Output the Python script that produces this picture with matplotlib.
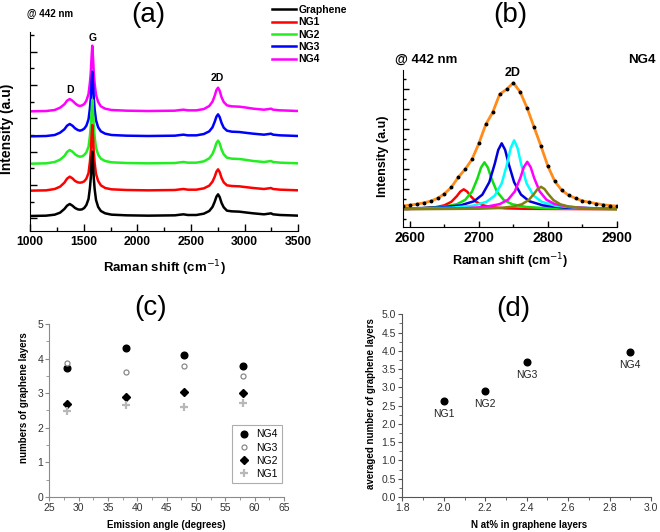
import numpy as np
import matplotlib
matplotlib.use('Agg')
from matplotlib import pyplot as plt
from matplotlib.ticker import MultipleLocator, FormatStrFormatter

plt.rcParams['font.family'] = ['Liberation Sans', 'DejaVu Sans']

# (a) - espectros Raman empilhados (intensidade relativa, a.u.)
raman_x = [1000, 1150, 1230, 1280, 1320, 1345, 1370, 1395, 1420, 1445,
           1465, 1485, 1505, 1525, 1545, 1558, 1566, 1573, 1580, 1587,
           1594, 1602, 1615, 1635, 1660, 1700, 1760, 1900, 2100, 2350,
           2400, 2430, 2470, 2550, 2620, 2670, 2700, 2720, 2737, 2752,
           2767, 2785, 2805, 2835, 2880, 2950, 3000, 3080, 3180, 3225,
           3245, 3265, 3330, 3420, 3500]
graphene = [0, 1, 4, 10, 21, 31, 36, 31, 24, 20,
            19, 20, 24, 33, 51, 84, 114, 156, 193, 156,
            114, 81, 48, 27, 15, 8, 4, 2, 1, 2,
            4, 5, 3, 3, 7, 15, 27, 42, 58, 65,
            57, 39, 26, 16, 14, 13, 11, 8, 5, 7,
            8, 5, 3, 2, 1]
ng1 = [0, 1, 5, 12, 24, 36, 42, 37, 29, 25,
       24, 25, 28, 36, 53, 86, 116, 160, 197, 160,
       116, 83, 50, 29, 16, 8, 4, 2, 1, 2,
       4, 5, 3, 3, 7, 15, 27, 41, 57, 64,
       56, 38, 25, 16, 14, 13, 11, 8, 5, 7,
       8, 5, 3, 2, 1]
ng2 = [0, 1, 5, 12, 23, 35, 41, 36, 28, 23,
       21, 22, 26, 34, 51, 83, 113, 155, 192, 155,
       113, 80, 48, 27, 15, 8, 4, 2, 1, 2,
       4, 5, 3, 3, 7, 16, 29, 45, 62, 69,
       61, 42, 28, 18, 15, 14, 12, 8, 5, 7,
       8, 5, 3, 2, 1]
ng3 = [0, 1, 4, 11, 21, 32, 37, 32, 24, 19,
       17, 19, 23, 32, 51, 84, 114, 157, 194, 157,
       114, 81, 48, 27, 15, 8, 4, 2, 1, 2,
       4, 5, 3, 3, 7, 15, 27, 43, 59, 66,
       58, 40, 26, 17, 14, 13, 11, 8, 5, 7,
       8, 5, 3, 2, 1]
ng4 = [0, 1, 4, 11, 21, 32, 37, 32, 24, 18,
       16, 18, 22, 32, 52, 86, 116, 160, 197, 160,
       116, 83, 49, 28, 15, 8, 4, 2, 1, 2,
       4, 5, 3, 3, 7, 16, 29, 46, 64, 71,
       62, 42, 28, 18, 15, 14, 12, 8, 5, 7,
       8, 5, 3, 2, 1]
nomes = ['Graphene', 'NG1', 'NG2', 'NG3', 'NG4']
espectros = [graphene, ng1, ng2, ng3, ng4]
offsets = [7, 83, 164, 246, 321]
cores_a = ['black', '#ff0000', '#22ee22', '#0000ff', '#ff00ff']

# (b) - ajuste da banda 2D da amostra NG4
fit_x = list(range(2590, 2901, 10))
fit_y = [3.4, 4.2, 5.2, 6.5, 8.2, 11, 15.5, 22, 32, 40,
         50, 66, 85, 97, 115, 120, 126.5, 117, 101, 82,
         63, 43, 28, 19, 14, 11, 8.5, 7, 5.8, 4.6,
         3.8, 3.2]
red_x = [2590, 2618, 2638, 2650, 2660, 2668, 2673, 2678, 2683, 2688, 2696, 2706, 2718, 2738, 2768, 2900]
red_y = [0.5, 1.0, 2.2, 4.0, 7.5, 13.2, 17.7, 20, 17.7, 13.2, 7.5, 4.0, 2.2, 1.0, 0.5, 0.1]
green_x = [2590, 2618, 2648, 2668, 2680, 2690, 2698, 2703, 2708, 2713, 2718, 2726, 2736, 2748, 2768, 2798, 2900]
green_y = [0.7, 1.1, 2.4, 5.1, 9.4, 17.7, 31.1, 41.7, 47, 41.7, 31.1, 17.7, 9.4, 5.1, 2.4, 1.1, 0.25]
blue_x = [2590, 2643, 2673, 2693, 2705, 2715, 2723, 2728, 2733, 2738, 2743, 2751, 2761, 2773, 2793, 2823, 2900]
blue_y = [0.7, 1.8, 3.9, 8.1, 14.7, 27.1, 45.7, 59.4, 66, 59.4, 45.7, 27.1, 14.7, 8.1, 3.9, 1.8, 0.5]
cyan_x = [2590, 2661, 2691, 2711, 2723, 2733, 2741, 2746, 2751, 2756, 2761, 2769, 2779, 2791, 2811, 2841, 2900]
cyan_y = [0.5, 1.6, 3.6, 7.5, 13.8, 26, 45.7, 61.2, 69, 61.2, 45.7, 26, 13.8, 7.5, 3.6, 1.6, 0.6]
magenta_x = [2590, 2680, 2710, 2730, 2742, 2752, 2760, 2765, 2770, 2775, 2780, 2788, 2798, 2810, 2830, 2860, 2900]
magenta_y = [0.3, 1.1, 2.5, 5.2, 9.5, 17.9, 31.4, 42.1, 47.5, 42.1, 31.4, 17.9, 9.5, 5.2, 2.5, 1.1, 0.55]
olive_x = [2590, 2700, 2730, 2750, 2762, 2772, 2780, 2785, 2790, 2795, 2800, 2808, 2818, 2830, 2850, 2880, 2900]
olive_y = [0.1, 0.6, 1.3, 2.8, 5.0, 9.2, 15.6, 20.3, 22.5, 20.3, 15.6, 9.2, 5.0, 2.8, 1.3, 0.6, 0.4]

# (c) - numero de camadas vs angulo de emissao
angulos = [28, 38, 48, 58]
camadas_ng4 = [3.72, 4.30, 4.10, 3.80]
camadas_ng3 = [3.87, 3.60, 3.78, 3.50]
camadas_ng2 = [2.68, 2.90, 3.04, 3.00]
camadas_ng1 = [2.48, 2.65, 2.60, 2.72]

# (d) - media de camadas vs N at%
n_at = [2.0, 2.2, 2.4, 2.9]
media_camadas = [2.62, 2.90, 3.70, 3.98]
rotulos_d = ['NG1', 'NG2', 'NG3', 'NG4']

fig = plt.figure(figsize=(6.6, 5.32), dpi=100)

# ---------------- painel (a)
ax_a = fig.add_axes([0.0455, 0.5658, 0.4065, 0.374])
linhas = []
for i in reversed(range(len(espectros))):
    l, = ax_a.plot(raman_x, np.array(espectros[i]) + offsets[i], color=cores_a[i], lw=1.8)
    linhas.insert(0, l)
ax_a.set_xlim(1000, 3500)
ax_a.set_ylim(-38, 559)
ax_a.spines['top'].set_visible(False)
ax_a.spines['right'].set_visible(False)
ax_a.xaxis.set_major_locator(MultipleLocator(500))
ax_a.xaxis.set_minor_locator(MultipleLocator(250))
ax_a.yaxis.set_major_locator(MultipleLocator(100))
ax_a.yaxis.set_minor_locator(MultipleLocator(50))
ax_a.set_yticklabels([])
ax_a.tick_params(which='both', direction='in')
ax_a.tick_params(which='major', length=5, width=1)
ax_a.tick_params(which='minor', length=3, width=1)
ax_a.tick_params(axis='x', labelsize=8.7)
for t in ax_a.get_xticklabels():
    t.set_fontweight('bold')
ax_a.set_xlabel('Raman shift (cm$^{-1}$)', fontsize=9.5, fontweight='bold')
ax_a.set_ylabel('Intensity (a.u)', fontsize=10, fontweight='bold')
ax_a.xaxis.set_label_coords(0.5, -0.136)
ax_a.yaxis.set_label_coords(-0.06, 0.515)
ax_a.text(1373, 385, 'D', fontsize=7.5, fontweight='bold', ha='center', va='center')
ax_a.text(1587, 541, 'G', fontsize=7.5, fontweight='bold', ha='center', va='center')
ax_a.text(2743, 421, '2D', fontsize=7.5, fontweight='bold', ha='center', va='center')
fig.text(27 / 660, 1 - 14 / 532, '@ 442 nm', fontsize=7, fontweight='bold', va='center')
fig.legend(linhas, nomes, loc='upper left', bbox_to_anchor=(272 / 660, 1 - 5 / 532),
           frameon=False, borderpad=0, borderaxespad=0, handlelength=2.3,
           handletextpad=0.25, labelspacing=0.22, prop={'weight': 'bold', 'size': 7.5})
fig.text(148 / 660, 1 - 15 / 532, '(a)', fontsize=20, ha='center', va='center')

# ---------------- painel (b)
ax_b = fig.add_axes([0.6106, 0.5742, 0.3242, 0.2942])
ax_b.plot(red_x, red_y, color='#ff0000', lw=1.8)
ax_b.plot(green_x, green_y, color='#11dd11', lw=1.8)
ax_b.plot(blue_x, blue_y, color='#0000dd', lw=1.8)
ax_b.plot(cyan_x, cyan_y, color='#00ffff', lw=1.8)
ax_b.plot(magenta_x, magenta_y, color='#ff00ff', lw=1.8)
ax_b.plot(olive_x, olive_y, color='#808010', lw=1.8)
ax_b.plot(fit_x, fit_y, color='#ff8c1a', lw=2)
ax_b.plot(fit_x, fit_y, ls='none', marker='o', ms=1.8, color='black')
ax_b.set_xlim(2590, 2900)
ax_b.set_ylim(-17.2, 139.3)
ax_b.spines['top'].set_visible(False)
ax_b.spines['right'].set_visible(False)
ax_b.xaxis.set_major_locator(MultipleLocator(100))
ax_b.xaxis.set_minor_locator(MultipleLocator(50))
ax_b.yaxis.set_major_locator(MultipleLocator(20))
ax_b.yaxis.set_minor_locator(MultipleLocator(10))
ax_b.set_yticklabels([])
ax_b.tick_params(which='both', direction='in')
ax_b.tick_params(which='major', length=4, width=1)
ax_b.tick_params(which='minor', length=2.5, width=1)
ax_b.tick_params(axis='x', labelsize=10)
for t in ax_b.get_xticklabels():
    t.set_fontweight('bold')
ax_b.set_xlabel('Raman shift (cm$^{-1}$)', fontsize=9, fontweight='bold')
ax_b.set_ylabel('Intensity (a.u)', fontsize=9, fontweight='bold')
ax_b.xaxis.set_label_coords(0.5, -0.157)
ax_b.yaxis.set_label_coords(-0.065, 0.446)
ax_b.text(2749, 136.6, '2D', fontsize=9, fontweight='bold', ha='center', va='center')
fig.text(395 / 660, 1 - 60 / 532, '@ 442 nm', fontsize=9.5, fontweight='bold', va='center')
fig.text(656 / 660, 1 - 60 / 532, 'NG4', fontsize=9.5, fontweight='bold', va='center', ha='right')
fig.text(510 / 660, 1 - 15 / 532, '(b)', fontsize=20, ha='center', va='center')

# ---------------- painel (c)
cinza = '#8a8a8a'
ax_c = fig.add_axes([0.0747, 0.0658, 0.3556, 0.3252])
ax_c.plot(angulos, camadas_ng4, ls='none', marker='o', ms=4.8, color='black', label='NG4')
ax_c.plot(angulos, camadas_ng3, ls='none', marker='o', ms=3.6, mfc='white', mec='#888888', mew=0.9, label='NG3')
ax_c.plot(angulos, camadas_ng2, ls='none', marker='D', ms=4.5, color='black', label='NG2')
ax_c.plot(angulos, camadas_ng1, ls='none', marker='+', ms=6, mew=1.6, color='#b8b8b8', label='NG1')
ax_c.set_xlim(25, 65)
ax_c.set_ylim(0, 5)
ax_c.spines['top'].set_visible(False)
ax_c.spines['right'].set_visible(False)
ax_c.spines['left'].set_color(cinza)
ax_c.spines['bottom'].set_color(cinza)
ax_c.xaxis.set_major_locator(MultipleLocator(5))
ax_c.xaxis.set_minor_locator(MultipleLocator(2.5))
ax_c.yaxis.set_major_locator(MultipleLocator(1))
ax_c.yaxis.set_minor_locator(MultipleLocator(0.5))
ax_c.tick_params(which='both', direction='out', color=cinza, labelcolor='#333333', labelsize=7.5, pad=1.5)
ax_c.tick_params(which='major', length=3)
ax_c.tick_params(which='minor', length=2)
ax_c.set_xlabel('Emission angle (degrees)', fontsize=7, fontweight='bold')
ax_c.set_ylabel('numbers of graphene layers', fontsize=7, fontweight='bold')
ax_c.xaxis.set_label_coords(0.5, -0.133)
ax_c.yaxis.set_label_coords(-0.0865, 0.574)
leg = ax_c.legend(loc='lower right', bbox_to_anchor=(0.991, 0.081), fontsize=7.5, fancybox=False,
                  borderpad=0.4, labelspacing=0.3, handletextpad=0.5, handlelength=1.4,
                  borderaxespad=0)
leg.get_frame().set_edgecolor('#999999')
leg.get_frame().set_linewidth(0.8)
fig.text(151 / 660, 1 - 308 / 532, '(c)', fontsize=20, ha='center', va='center')

# ---------------- painel (d)
ax_d = fig.add_axes([0.6096, 0.0658, 0.3768, 0.3434])
ax_d.plot(n_at, media_camadas, ls='none', marker='o', ms=4.8, color='black')
for xi, yi, r in zip(n_at, media_camadas, rotulos_d):
    ax_d.annotate(r, (xi, yi), xytext=(0, -13), textcoords='offset pixels',
                  ha='center', va='center', fontsize=7.5, color='#222222')
ax_d.set_xlim(1.8, 3.0)
ax_d.set_ylim(0, 5)
ax_d.spines['top'].set_visible(False)
ax_d.spines['right'].set_visible(False)
ax_d.spines['left'].set_color('#555555')
ax_d.spines['bottom'].set_color('#555555')
ax_d.xaxis.set_major_locator(MultipleLocator(0.2))
ax_d.xaxis.set_minor_locator(MultipleLocator(0.1))
ax_d.yaxis.set_major_locator(MultipleLocator(0.5))
ax_d.yaxis.set_minor_locator(MultipleLocator(0.25))
ax_d.xaxis.set_major_formatter(FormatStrFormatter('%.1f'))
ax_d.yaxis.set_major_formatter(FormatStrFormatter('%.1f'))
ax_d.tick_params(which='both', direction='out', color='#555555', labelcolor='#333333', labelsize=7.5, pad=1.5)
ax_d.tick_params(which='major', length=3)
ax_d.tick_params(which='minor', length=2)
ax_d.set_xlabel('N at% in graphene layers', fontsize=7, fontweight='bold')
ax_d.set_ylabel('averaged number of graphene layers', fontsize=7, fontweight='bold')
ax_d.xaxis.set_label_coords(0.508, -0.126)
ax_d.yaxis.set_label_coords(-0.106, 0.512)
fig.text(513 / 660, 1 - 309 / 532, '(d)', fontsize=20, ha='center', va='center')

plt.savefig('out.png', dpi=100)
